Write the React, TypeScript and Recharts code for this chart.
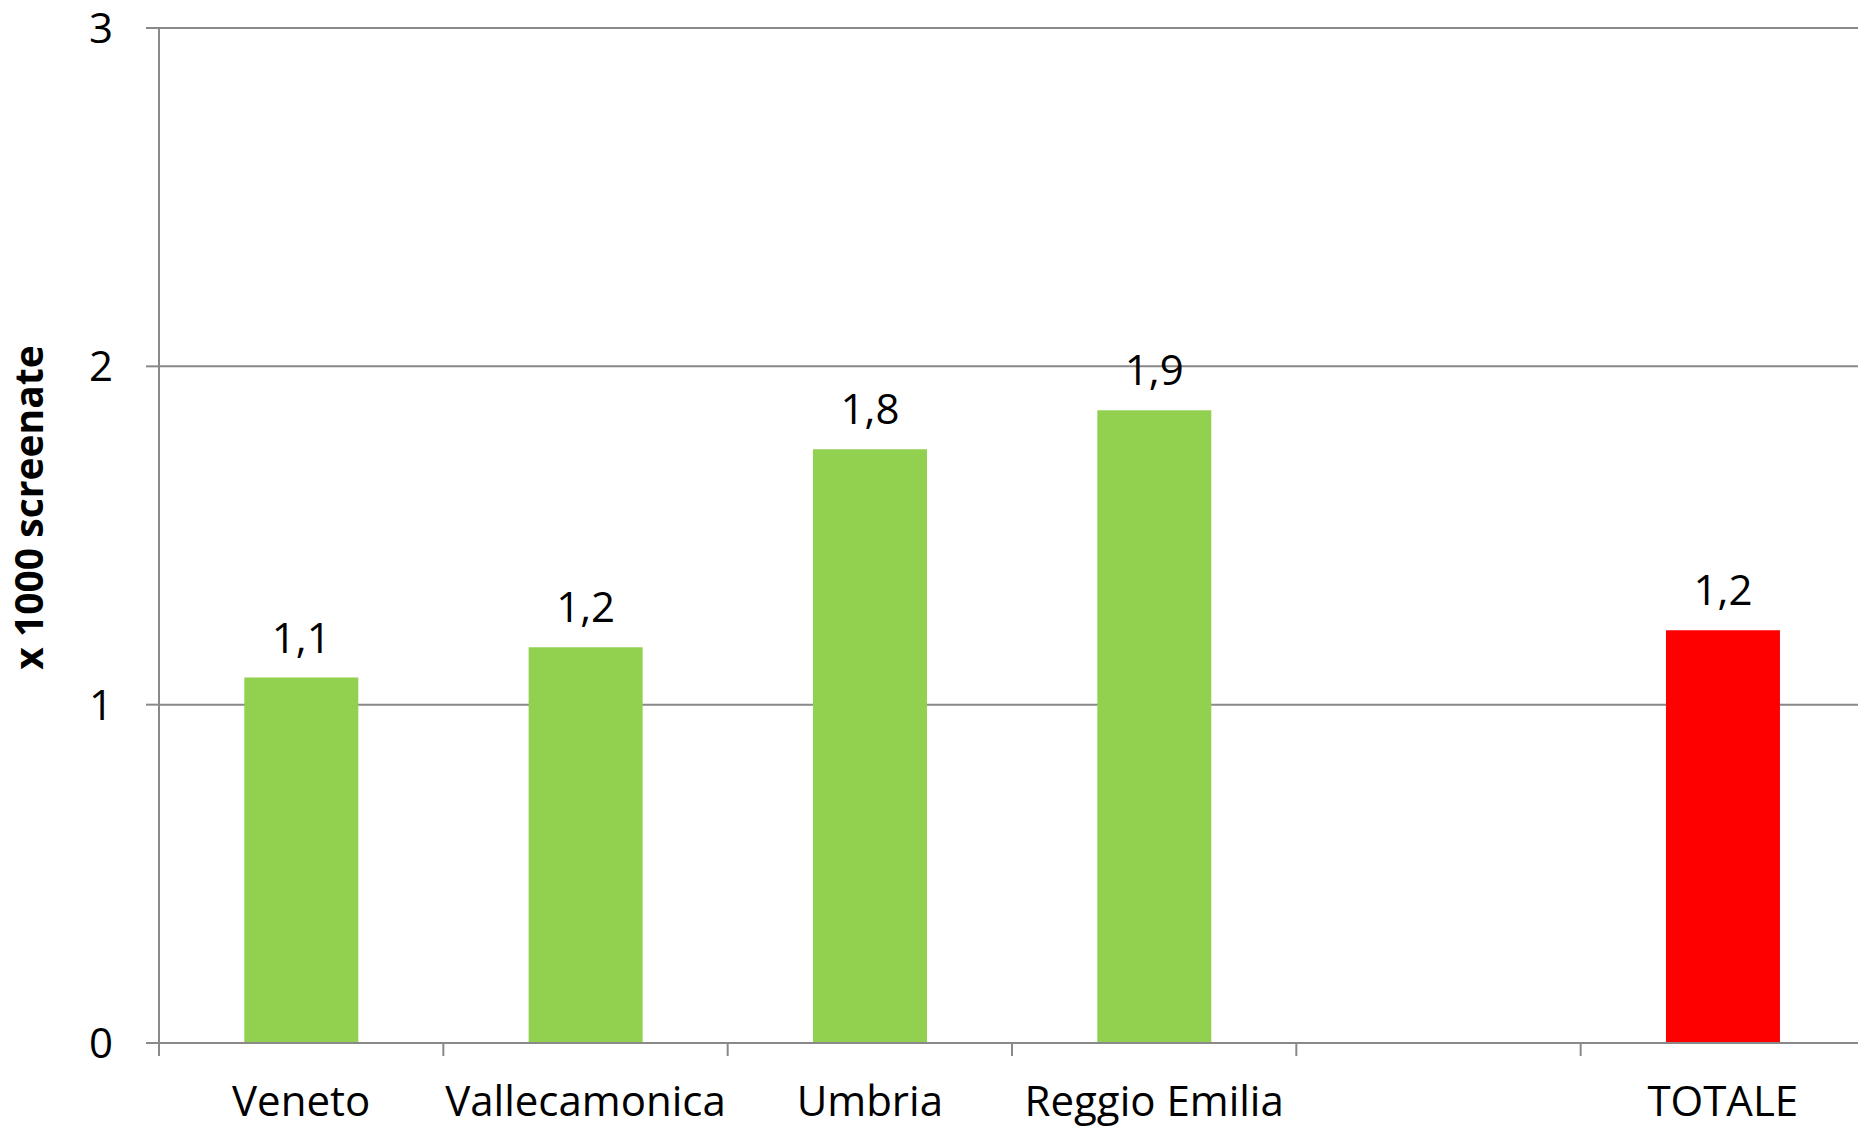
import React from 'react';
import { BarChart, Bar, XAxis, YAxis, CartesianGrid, Cell, LabelList } from 'recharts';

const categories = ['Veneto', 'Vallecamonica', 'Umbria', 'Reggio Emilia', '', 'TOTALE'];
const values: (number | null)[] = [1.08, 1.17, 1.755, 1.87, null, 1.22];
const yTicks = [0, 1, 2, 3];
const yTitle = 'x 1000 screenate';
const totalCategory = 'TOTALE';

const data = categories.map((c, i) => ({ name: c, value: values[i] }));

const W = 1858;
const H = 1127;
const CHART_W = 1866;
const MARGIN = { top: 28, right: 1, bottom: 0, left: 0 };
const Y_W = 159;
const X_H = 84;
const BAND = (CHART_W - MARGIN.left - MARGIN.right - Y_W) / categories.length;
const FONT = '"Open Sans", Lato, sans-serif';
const GRID = '#898989';
const GREEN = '#92D050';
const RED = '#FF0000';
const FS = 42;

const XTick = (props: any) => {
  const { x, y, payload } = props;
  const bx = x - BAND / 2;
  return (
    <g>
      <line x1={bx} x2={bx} y1={y} y2={y + 13} stroke={GRID} strokeWidth={2} />
      <text x={x} y={y + 73} textAnchor="middle" fontFamily={FONT} fontSize={FS} fill="#000">
        {payload.value}
      </text>
    </g>
  );
};

const renderTitle = (props: any) => {
  const vb = props.viewBox || { x: 0, y: MARGIN.top, height: H - MARGIN.top - X_H };
  const x = vb.x + 43;
  const y = vb.y + vb.height / 2 - 28;
  return (
    <text
      x={x}
      y={y}
      transform={`rotate(-90 ${x} ${y})`}
      textAnchor="middle"
      fontFamily={FONT}
      fontWeight="bold"
      fontSize={39}
      fill="#000"
    >
      {yTitle}
    </text>
  );
};

const fmt = (v: any) => (v === null || v === undefined ? '' : Number(v).toFixed(1).replace('.', ','));

export default function App() {
  return (
    <div style={{ position: 'absolute', left: 0, top: 0, width: W, height: H, overflow: 'hidden', background: '#fff' }}>
      <BarChart width={CHART_W} height={H} data={data} margin={MARGIN} barCategoryGap="30%">
        <CartesianGrid vertical={false} stroke={GRID} strokeWidth={2} />
        <XAxis
          dataKey="name"
          height={X_H}
          interval={0}
          tickSize={0}
          tickMargin={0}
          tickLine={false}
          axisLine={{ stroke: GRID, strokeWidth: 2 }}
          tick={<XTick />}
        />
        <YAxis
          type="number"
          domain={[0, 3]}
          ticks={yTicks}
          width={Y_W}
          tickSize={13}
          tickMargin={33}
          tickLine={{ stroke: GRID, strokeWidth: 2 }}
          axisLine={{ stroke: GRID, strokeWidth: 2 }}
          tick={{ fill: '#000', fontSize: FS, fontFamily: FONT }}
          label={renderTitle}
        />
        <Bar dataKey="value" isAnimationActive={false}>
          {data.map((d) => (
            <Cell key={d.name || 'blank'} fill={d.name === totalCategory ? RED : GREEN} />
          ))}
          <LabelList
            dataKey="value"
            position="top"
            offset={25}
            formatter={fmt}
            fill="#000"
            fontSize={FS}
            fontFamily={FONT}
          />
        </Bar>
      </BarChart>
    </div>
  );
}
